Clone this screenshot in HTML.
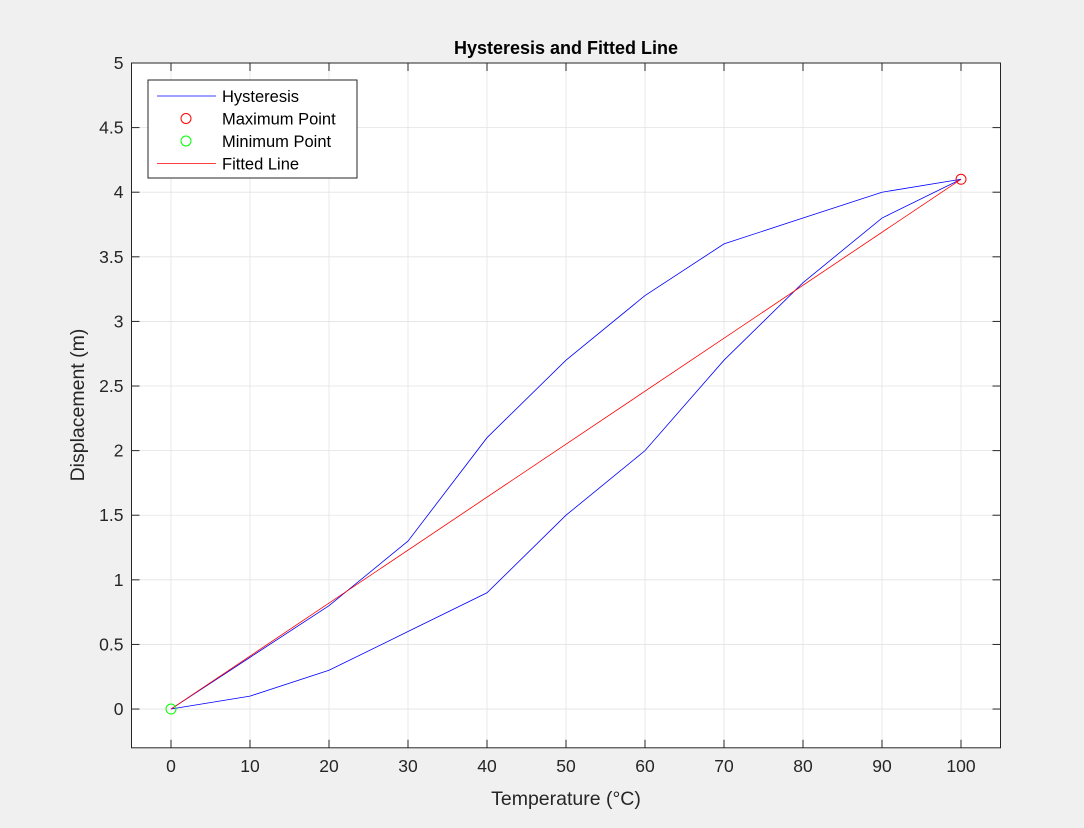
<!DOCTYPE html>
<html><head><meta charset="utf-8"><style>
body{margin:0;background:#f0f0f0;}
svg{display:block;font-family:"Liberation Sans",Arial,sans-serif;}
</style></head><body>
<svg id="c" width="1084" height="828"></svg>
<script>
const xTicks=[0,10,20,30,40,50,60,70,80,90,100];
const yTicks=[0,0.5,1,1.5,2,2.5,3,3.5,4,4.5,5];
const yTickLabels=['0','0.5','1','1.5','2','2.5','3','3.5','4','4.5','5'];
const hystX=[0,10,20,30,40,50,60,70,80,90,100,90,80,70,60,50,40,30,20,10,0];
const hystY=[0,0.1,0.3,0.6,0.9,1.5,2.0,2.7,3.3,3.8,4.1,4.0,3.8,3.6,3.2,2.7,2.1,1.3,0.8,0.4,0];
const fitX=[0,100];
const fitY=[0,4.1];
const maxPt=[100,4.1];
const minPt=[0,0];
const X0=131.5,X1=1000.5,Y0=747.8,Y1=63;
const xs=v=>X0+(v+5)/110*(X1-X0);
const ys=v=>Y0-(v+0.3)/5.3*(Y0-Y1);
const svg=document.getElementById('c');
const NS='http://www.w3.org/2000/svg';
function mk(t,a,txt){const e=document.createElementNS(NS,t);for(const k in a)e.setAttribute(k,a[k]);if(txt!==undefined)e.textContent=txt;svg.appendChild(e);return e;}
let e=mk('rect',{x:X0,y:Y1,width:X1-X0,height:Y0-Y1,fill:'#fff'});


xTicks.forEach(v=>{const g=mk('line',{x1:xs(v),x2:xs(v),y1:Y1,y2:Y0,stroke:'#e3e3e3','stroke-width':0.8});


mk('line',{x1:xs(v),x2:xs(v),y1:Y0,y2:Y0-8,stroke:'#262626'});mk('line',{x1:xs(v),x2:xs(v),y1:Y1,y2:Y1+8,stroke:'#262626'});
const t=mk('text',{x:xs(v),y:Y0+24,'text-anchor':'middle','font-size':17.5,fill:'#262626'},String(v));

});
yTicks.forEach((v,i)=>{const g=mk('line',{x1:X0,x2:X1,y1:ys(v),y2:ys(v),stroke:'#e3e3e3','stroke-width':0.8});


mk('line',{x1:X0,x2:X0+8,y1:ys(v),y2:ys(v),stroke:'#262626'});mk('line',{x1:X1,x2:X1-8,y1:ys(v),y2:ys(v),stroke:'#262626'});
const t=mk('text',{x:X0-8,y:ys(v)+6,'text-anchor':'end','font-size':17.5,fill:'#262626'},yTickLabels[i]);

});
e=mk('rect',{x:X0,y:Y1,width:X1-X0,height:Y0-Y1,fill:'none',stroke:'#262626'});


e=mk('polyline',{points:hystX.map((x,i)=>xs(x)+','+ys(hystY[i])).join(' '),fill:'none',stroke:'#0000ff','stroke-width':0.8});


e=mk('polyline',{points:fitX.map((x,i)=>xs(x)+','+ys(fitY[i])).join(' '),fill:'none',stroke:'#ff0000','stroke-width':0.8});


e=mk('circle',{cx:xs(maxPt[0]),cy:ys(maxPt[1]),r:5,fill:'none',stroke:'#ff0000'});


e=mk('circle',{cx:xs(minPt[0]),cy:ys(minPt[1]),r:5,fill:'none',stroke:'#00ff00'});


e=mk('text',{x:566,y:54,'text-anchor':'middle','font-size':18,'font-weight':'bold',fill:'#000'},'Hysteresis and Fitted Line');


e=mk('text',{x:566,y:805,'text-anchor':'middle','font-size':19.5,fill:'#262626'},'Temperature (°C)');


e=mk('text',{x:84,y:405,'text-anchor':'middle','font-size':19.5,fill:'#262626',transform:'rotate(-90 84 405)'},'Displacement (m)');


e=mk('rect',{x:148,y:80,width:209,height:98,fill:'#fff',stroke:'#262626'});


const L=[['Hysteresis','line','#0000ff'],['Maximum Point','circle','#ff0000'],['Minimum Point','circle','#00ff00'],['Fitted Line','line','#ff0000']];
L.forEach((d,i)=>{const y=96+i*22.5;
if(d[1]=='line')mk('line',{x1:157,x2:216,y1:y,y2:y,stroke:d[2],'stroke-width':0.8});else mk('circle',{cx:186,cy:y,r:5,fill:'none',stroke:d[2]});
const t=mk('text',{x:222,y:y+6,'font-size':16.5,fill:'#000'},d[0]);

});
</script>
</body></html>
